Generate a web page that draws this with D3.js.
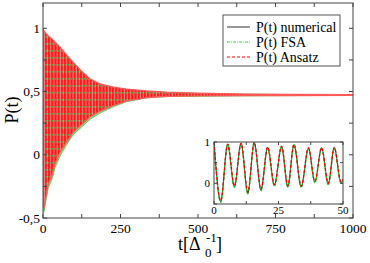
<!DOCTYPE html>
<html><head><meta charset="utf-8">
<script src="https://cdn.jsdelivr.net/npm/d3@7"></script>
<style>
body{margin:0;background:#fff}
svg{display:block;font-family:"Liberation Serif","Times New Roman",serif}
</style>
</head><body><svg id="chart"></svg>
<script>
const W=370,H=263;
// envelope of the fast oscillation (main panel)
const envT=[0,3,17,28,39,55,76,98,125,152,184,227,270,335,400,500,650,800,1000];
const ansatzUpper=[1.0,0.98,0.94,0.92,0.89,0.85,0.79,0.73,0.66,0.60,0.56,0.535,0.52,0.505,0.495,0.487,0.48,0.477,0.475];
const ansatzLower=[-0.42,-0.42,-0.23,-0.17,-0.07,0.02,0.10,0.18,0.24,0.30,0.345,0.39,0.425,0.452,0.462,0.465,0.467,0.468,0.47];
const fsaUpper=[1.0,0.97,0.93,0.91,0.88,0.84,0.78,0.72,0.65,0.59,0.55,0.53,0.515,0.5,0.492,0.485,0.479,0.476,0.474];
const fsaLower=[-0.46,-0.45,-0.26,-0.20,-0.10,-0.01,0.08,0.16,0.22,0.28,0.33,0.38,0.42,0.45,0.46,0.463,0.466,0.468,0.47];
// inset: maxima / minima over the first 50 time units
const insetT=[0,2.6,5.3,7.9,10.5,13.1,15.6,18.2,20.8,23.4,26.2,28.6,31.0,33.8,36.6,39.1,41.7,44.3,46.6,49.2,50];
const insetAnsatz=[1.0,-0.42,0.95,-0.06,0.97,-0.22,0.99,-0.14,0.88,-0.03,0.90,-0.06,0.94,-0.07,0.86,0.05,0.86,0.0,0.87,0.04,0.1];
const insetFSA=[1.0,-0.46,0.94,-0.10,0.96,-0.26,0.98,-0.19,0.86,-0.07,0.88,-0.10,0.93,-0.10,0.84,0.01,0.85,-0.04,0.86,0.0,0.07];
const insetNum=[1.0,-0.44,0.945,-0.08,0.965,-0.24,0.985,-0.16,0.87,-0.05,0.89,-0.08,0.935,-0.085,0.85,0.03,0.855,-0.02,0.865,0.02,0.08];
const xTicks=[0,250,500,750,1000];
const yTicks=[-0.5,0,0.5,1];
const insetXTicks=[0,25,50];
const insetYTicks=[0,1];
const legendNames=["P(t) numerical","P(t) FSA","P(t) Ansatz"];

const svg=d3.select('#chart').attr('width',W).attr('height',H);
const fmt=d=>d===0?'0':String(d).replace('.',',');

const x=d3.scaleLinear().domain([0,1000]).range([43,353]);
const y=d3.scaleLinear().domain([-0.5,1.2]).range([218,3]);

const defs=svg.append('defs');
defs.append('clipPath').attr('id','mainClip').append('rect')
  .attr('x',43).attr('y',3).attr('width',310).attr('height',215);
const pat=defs.append('pattern').attr('id','osc').attr('patternUnits','userSpaceOnUse')
  .attr('width',3.2).attr('height',7);
pat.append('rect').attr('width',3.2).attr('height',7).attr('fill','#ff1a1a');
pat.append('rect').attr('x',2.2).attr('width',1).attr('height',7).attr('fill','#ff8a8a');
pat.append('rect').attr('x',0.6).attr('y',1).attr('width',1.4).attr('height',1.6).attr('fill','#3cb83c');

// main band
const band=(up,lo)=>d3.area().x((d,i)=>x(envT[i])).y0((d,i)=>y(lo[i])).y1((d,i)=>y(up[i]))(envT);
const g=svg.append('g').attr('clip-path','url(#mainClip)');
g.append('path').attr('d',band(fsaUpper,fsaLower)).attr('fill','#7ee07e')
  .attr('stroke','#5fd35f').attr('stroke-width',1);
g.append('path').attr('d',band(ansatzUpper,ansatzLower)).attr('fill','url(#osc)')
  .attr('stroke','#ff5a5a').attr('stroke-width',1.2);

// frame and ticks
svg.append('rect').attr('x',43).attr('y',3).attr('width',310).attr('height',215)
  .attr('fill','none').attr('stroke','#444').attr('stroke-width',1);
const tk=svg.append('g').attr('stroke','#444').attr('stroke-width',1);
d3.range(0,1001,125).forEach(t=>{
  tk.append('line').attr('x1',x(t)).attr('x2',x(t)).attr('y1',218).attr('y2',214);
  tk.append('line').attr('x1',x(t)).attr('x2',x(t)).attr('y1',3).attr('y2',7);
});
d3.range(-0.5,1.21,0.25).forEach(v=>{
  tk.append('line').attr('x1',43).attr('x2',47).attr('y1',y(v)).attr('y2',y(v));
  tk.append('line').attr('x1',353).attr('x2',349).attr('y1',y(v)).attr('y2',y(v));
});
svg.append('g').selectAll('text').data(xTicks).join('text')
  .attr('x',d=>x(d)).attr('y',233).attr('text-anchor','middle')
  .attr('font-size',13.5).text(d=>d);
svg.append('g').selectAll('text').data(yTicks).join('text')
  .attr('x',40).attr('y',d=>y(d)).attr('dy','0.35em').attr('text-anchor','end')
  .attr('font-size',13.5).text(fmt);

// axis titles
svg.append('text').attr('transform','translate(18,110) rotate(-90)')
  .attr('text-anchor','middle').attr('font-size',18).text('P(t)');
const xt=svg.append('g').attr('font-size',18);
xt.append('text').attr('x',178).attr('y',250).text('t[Δ');
xt.append('text').attr('x',205).attr('y',257).attr('font-size',13).text('0');
xt.append('text').attr('x',206).attr('y',242).attr('font-size',13).text('-1');
xt.append('text').attr('x',216).attr('y',250).text(']');

// legend
const lg=svg.append('g');
lg.append('rect').attr('x',223).attr('y',15).attr('width',117).attr('height',51)
  .attr('fill','#fff').attr('stroke','#555').attr('stroke-width',1);
const legStyle=[{c:'#333',d:null},{c:'#33dd33',d:'3,1,1,1'},{c:'#ff0000',d:'3,2'}];
legendNames.forEach((n,i)=>{
  const yy=27+i*15;
  lg.append('line').attr('x1',227).attr('x2',250).attr('y1',yy).attr('y2',yy)
    .attr('stroke',legStyle[i].c).attr('stroke-width',1).attr('stroke-dasharray',legStyle[i].d);
  lg.append('text').attr('x',256).attr('y',yy).attr('dy','0.35em').attr('font-size',14).text(n);
});

// inset
const ix=d3.scaleLinear().domain([0,50]).range([214,343]);
const iy=d3.scaleLinear().domain([-0.5,1]).range([204,142]);
const ins=svg.append('g');
ins.append('rect').attr('x',214).attr('y',142).attr('width',129).attr('height',62).attr('fill','#fff');
defs.append('clipPath').attr('id','insClip').append('rect')
  .attr('x',214).attr('y',141).attr('width',129).attr('height',63);
const iline=vals=>d3.line().x((d,i)=>ix(insetT[i])).y((d,i)=>iy(vals[i])).curve(d3.curveMonotoneX)(insetT);
const ic=ins.append('g').attr('clip-path','url(#insClip)').attr('fill','none');
ic.append('path').attr('d',iline(insetNum)).attr('stroke','#222').attr('stroke-width',1);
ic.append('path').attr('d',iline(insetFSA)).attr('stroke','#22cc22').attr('stroke-width',1.3).attr('stroke-dasharray','3,1,1,1');
ic.append('path').attr('d',iline(insetAnsatz)).attr('stroke','#ff0000').attr('stroke-width',1.3).attr('stroke-dasharray','3,2');
ins.append('rect').attr('x',214).attr('y',142).attr('width',129).attr('height',62)
  .attr('fill','none').attr('stroke','#444').attr('stroke-width',1);
const itk=ins.append('g').attr('stroke','#444');
d3.range(0,50.1,12.5).forEach(t=>{
  itk.append('line').attr('x1',ix(t)).attr('x2',ix(t)).attr('y1',204).attr('y2',201);
  itk.append('line').attr('x1',ix(t)).attr('x2',ix(t)).attr('y1',142).attr('y2',145);
});
d3.range(-0.5,1.01,0.5).forEach(v=>{
  itk.append('line').attr('x1',214).attr('x2',217).attr('y1',iy(v)).attr('y2',iy(v));
  itk.append('line').attr('x1',343).attr('x2',340).attr('y1',iy(v)).attr('y2',iy(v));
});
ins.append('g').selectAll('text').data(insetXTicks).join('text')
  .attr('x',d=>ix(d)).attr('y',214).attr('text-anchor','middle').attr('font-size',11).text(d=>d);
ins.append('g').selectAll('text').data(insetYTicks).join('text')
  .attr('x',210).attr('y',d=>iy(d)).attr('dy','0.35em').attr('text-anchor','end').attr('font-size',11).text(d=>d);
</script>
</body></html>
